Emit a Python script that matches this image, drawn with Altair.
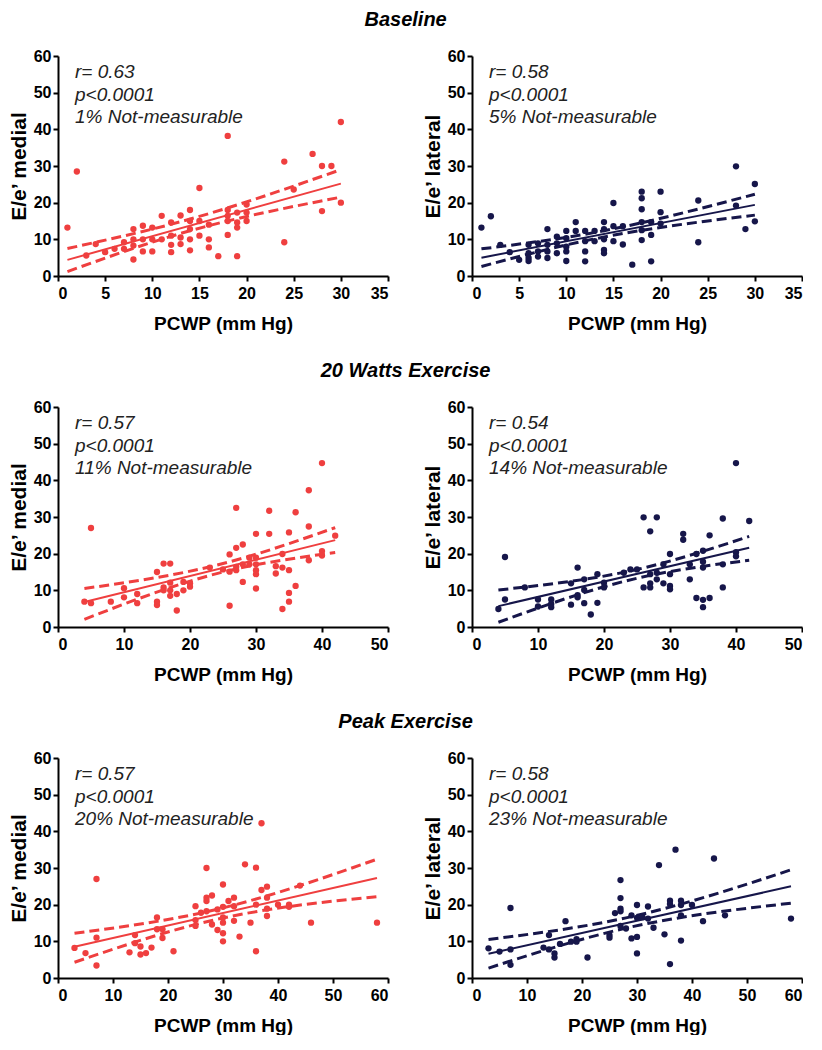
import altair as alt
import pandas as pd

RED = "#EF3F3F"
NAVY = "#16164A"
FONT = "Liberation Sans"

# ---------------- Baseline ----------------
base_med_x = [1, 2, 3, 4, 5, 6, 7, 7, 8, 8, 8, 8, 9, 9, 9, 10, 10, 10, 11, 11, 12, 12, 12, 12,
              13, 13, 13, 14, 14, 14, 14, 14, 15, 15, 15, 16, 16, 16, 17, 18, 18, 18, 18, 18,
              19, 19, 19, 19, 20, 20, 20, 24, 24, 25, 27, 28, 28, 29, 30, 30]
base_med_y = [13.2, 28.5, 5.6, 8.7, 6.5, 7.4, 9.2, 7.4, 12.8, 10, 8.3, 4.5, 13.7, 10, 6.7,
              13.2, 10, 6.7, 16.4, 10, 14.6, 11, 8.5, 6.5, 16.5, 10.5, 8.7, 18, 15, 12.8, 10, 7,
              24, 15, 11, 14, 10, 7.8, 5.4, 38.2, 18, 16.4, 15, 11.2, 17.3, 14.6, 13.2, 5.4,
              19.5, 17.3, 15, 31.2, 9.2, 23.6, 33.3, 30, 17.7, 30, 42, 20]
base_med_fit_x = [1, 13, 30]
base_med_line = [4.4, 25.2]
base_med_upper = [7.5, 14.8, 29.0]
base_med_lower = [1.2, 11.6, 21.5]
base_med_stats = ["r= 0.63", "p<0.0001", "1% Not-measurable"]

base_lat_x = [1, 2, 3, 4, 5, 6, 6, 6, 6, 7, 7, 7, 8, 8, 8, 8, 9, 9, 9, 10, 10, 10, 10, 10,
              11, 11, 12, 12, 12, 12, 13, 13, 14, 14, 14, 14, 14, 15, 15, 15, 16, 16, 17,
              18, 18, 18, 18, 18, 18, 19, 19, 19, 20, 20, 20, 24, 24, 28, 28, 29, 30, 30]
base_lat_y = [13.2, 16.3, 8.5, 6.5, 4.4, 8.5, 6.2, 4.1, 4.9, 8.9, 6.7, 5.3, 12.8, 8.5, 6.7, 4.9,
              10.7, 8.9, 6.2, 12.3, 10.3, 8, 6.7, 4.1, 14.7, 12.3, 12.3, 9.5, 6.7, 4, 12.3, 9.5,
              14.7, 12.8, 10, 7.1, 6.2, 19.9, 13.6, 9.5, 13.6, 8.6, 3.1, 23, 21.2, 18.2, 14.7,
              12.5, 9.8, 14.7, 11.2, 4, 23, 17.4, 14.3, 20.6, 9.2, 29.9, 19.2, 12.8, 25.1, 14.9]
base_lat_fit_x = [1, 12, 30]
base_lat_line = [5.0, 19.4]
base_lat_upper = [7.4, 11.4, 22.3]
base_lat_lower = [2.6, 9.6, 16.6]
base_lat_stats = ["r= 0.58", "p<0.0001", "5% Not-measurable"]

# ---------------- 20 Watts ----------------
w20_med_x = [4, 5, 5, 8, 10, 10, 12, 12, 15, 15, 15, 16, 16, 16, 17, 17, 17, 17, 18, 18, 19, 19,
             20, 20, 23, 25, 26, 26, 26, 27, 27, 27, 27, 28, 28, 28, 29, 29, 30, 30, 30, 30, 30,
             30, 32, 32, 33, 33, 34, 34, 34, 35, 35, 35, 35, 36, 36, 38, 38, 38, 40, 40, 40, 42]
w20_med_y = [6.9, 27, 6.5, 6.9, 10.6, 8.1, 9, 6.5, 15, 6.9, 6, 17.3, 10.8, 10, 17.3, 12.1, 10,
             8.5, 9, 4.5, 12.3, 10, 11.9, 11, 16.2, 15.7, 19.8, 15.1, 5.8, 32.5, 21.6, 16.4,
             15.5, 22.5, 17.1, 12.3, 18.9, 17.1, 25.4, 18.9, 17.1, 15.5, 14.4, 10.5, 31.7, 25.4,
             16.6, 14.6, 19.9, 16.2, 4.9, 25.8, 15.5, 9.3, 6.9, 31.3, 11.2, 37.3, 27.4, 18.2,
             44.7, 20.7, 19.5, 24.9]
w20_med_fit_x = [4, 25, 42]
w20_med_line = [6.8, 23.7]
w20_med_upper = [10.5, 17.3, 27.1]
w20_med_lower = [2.1, 15.0, 20.3]
w20_med_stats = ["r= 0.57", "p<0.0001", "11% Not-measurable"]

w20_lat_x = [4, 5, 5, 8, 10, 10, 12, 12, 12, 15, 15, 16, 16, 16, 17, 17, 17, 18, 19, 19, 20, 20,
             23, 24, 25, 26, 26, 27, 27, 27, 27, 28, 28, 28, 29, 29, 30, 30, 30, 30, 32, 32,
             33, 33, 34, 34, 35, 35, 35, 35, 35, 36, 36, 38, 38, 38, 40, 40, 40, 42]
w20_lat_y = [4.9, 19.1, 7.5, 10.8, 7.5, 5.6, 7.5, 6.3, 5.4, 11.9, 6.1, 16.2, 8.7, 8.1, 13, 10.1,
             6.5, 3.4, 14.4, 6.6, 12.1, 10.8, 14.8, 15.7, 15.7, 29.9, 10.8, 26.1, 14.4, 11.9,
             10.8, 29.9, 14.8, 13, 17.1, 11.9, 19.9, 14.4, 11.2, 10.3, 25.4, 23.8, 17.1, 13,
             19.9, 7.9, 20.8, 17.8, 16.2, 7.4, 5.4, 25, 7.9, 29.6, 17.1, 10.8, 44.7, 20.4,
             19.3, 28.9]
w20_lat_fit_x = [4, 25, 42]
w20_lat_line = [5.7, 21.6]
w20_lat_upper = [10.1, 15.7, 24.7]
w20_lat_lower = [1.3, 13.3, 18.2]
w20_lat_stats = ["r= 0.54", "p<0.0001", "14% Not-measurable"]

# ---------------- Peak ----------------
peak_med_x = [3, 5, 7, 7, 7, 13, 14, 14, 15, 15, 16, 17, 18, 18, 19, 19, 21, 25, 25, 25, 26,
              27, 27, 27, 27, 28, 28, 29, 29, 30, 30, 30, 30, 30, 30, 31, 32, 32, 32, 33, 34,
              35, 36, 36, 36, 37, 37, 38, 38, 38, 38, 40, 42, 42, 44, 46, 58]
peak_med_y = [8.2, 6.8, 27, 11, 3.4, 7, 11.7, 9.5, 8.6, 6.4, 6.8, 8.3, 16.5, 13.3, 13.3, 10.9,
              7.3, 19.6, 15.8, 14.2, 17.8, 30, 21.9, 21, 18.2, 22.5, 14.6, 18.7, 13.1, 25.5,
              19.4, 16.5, 15.1, 12.2, 10, 21, 21.9, 19.6, 15.6, 11.3, 31, 15.1, 30.1, 20, 7.3,
              42.2, 24, 24.9, 21.9, 18.9, 16.9, 20, 20, 19.4, 25.2, 15.1, 15.1]
peak_med_fit_x = [3, 28, 58]
peak_med_line = [8.5, 27.3]
peak_med_upper = [12.2, 18.4, 32.4]
peak_med_lower = [4.3, 15.7, 22.2]
peak_med_stats = ["r= 0.57", "p<0.0001", "20% Not-measurable"]

peak_lat_x = [3, 5, 7, 7, 7, 13, 14, 14, 15, 15, 16, 17, 18, 19, 19, 21, 25, 25, 26, 27, 27,
              27, 27, 27, 28, 29, 29, 30, 30, 30, 30, 31, 32, 32, 33, 34, 35, 36, 36, 36, 37,
              38, 38, 38, 38, 40, 42, 44, 46, 58]
peak_lat_y = [8.1, 7.2, 19.1, 7.8, 3.6, 8.3, 11.7, 7.8, 6.7, 5.6, 9.3, 15.5, 9.9, 10.6, 9.9,
              5.6, 11.7, 11, 17.7, 26.7, 21.8, 18.9, 18.2, 14.2, 13.5, 17.1, 10.8, 19.9, 16.4,
              11.2, 6.7, 16.6, 19.5, 16.2, 13.7, 30.8, 11.9, 21.1, 20.2, 3.8, 35, 21.1, 19.9,
              17.1, 10.2, 19.9, 15.5, 32.6, 17.1, 16.2]
peak_lat_fit_x = [3, 28, 58]
peak_lat_line = [6.6, 25.0]
peak_lat_upper = [10.5, 16.4, 29.5]
peak_lat_lower = [2.7, 13.6, 20.4]
peak_lat_stats = ["r= 0.58", "p<0.0001", "23% Not-measurable"]

row_titles = ["Baseline", "20 Watts Exercise", "Peak Exercise"]
y_titles = ["E/e\u2019 medial", "E/e\u2019 lateral"]
x_title = "PCWP (mm Hg)"

W, H = 330, 220


def make_panel(px, py, fx, fline, fup, flo, color, ytitle, xmax, xstep, stats):
    xs = alt.Scale(domain=[0, xmax], nice=False)
    ys = alt.Scale(domain=[0, 60], nice=False)
    xax = alt.Axis(title=x_title, values=list(range(0, xmax + 1, xstep)))
    yax = alt.Axis(title=ytitle, values=list(range(0, 61, 10)))
    X = alt.X("x:Q", scale=xs, axis=xax)
    Y = alt.Y("y:Q", scale=ys, axis=yax)

    pts_df = pd.DataFrame({"x": px, "y": py})
    band_df = pd.DataFrame({
        "x": list(fx) + list(fx),
        "y": list(fup) + list(flo),
        "band": ["upper"] * len(fx) + ["lower"] * len(fx),
    })
    line_df = pd.DataFrame({"x": [fx[0], fx[-1]], "y": fline})
    txt_df = pd.DataFrame({"label": ["\n".join(stats)]})

    bands = alt.Chart(band_df).mark_line(
        color=color, strokeWidth=3, strokeDash=[10, 5], interpolate="monotone"
    ).encode(x=X, y=Y, detail="band:N")
    line = alt.Chart(line_df).mark_line(color=color, strokeWidth=2).encode(x=X, y=Y)
    pts = alt.Chart(pts_df).mark_circle(size=40, color=color, opacity=1).encode(x=X, y=Y)
    txt = alt.Chart(txt_df).mark_text(
        align="left", baseline="middle", lineBreak="\n", lineHeight=22.5,
        font=FONT, fontStyle="italic", fontSize=19, color="#222222"
    ).encode(x=alt.value(17), y=alt.value(16), text="label:N")
    return alt.layer(bands, line, pts, txt).properties(width=W, height=H)


def row(title, left, right):
    return alt.hconcat(left, right, spacing=84, bounds="flush").properties(
        title=alt.TitleParams(
            text=title, font=FONT, fontSize=20, fontWeight="bold", fontStyle="italic",
            anchor="middle", offset=18, color="black"
        )
    )


r1 = row(row_titles[0],
         make_panel(base_med_x, base_med_y, base_med_fit_x, base_med_line, base_med_upper,
                    base_med_lower, RED, y_titles[0], 35, 5, base_med_stats),
         make_panel(base_lat_x, base_lat_y, base_lat_fit_x, base_lat_line, base_lat_upper,
                    base_lat_lower, NAVY, y_titles[1], 35, 5, base_lat_stats))
r2 = row(row_titles[1],
         make_panel(w20_med_x, w20_med_y, w20_med_fit_x, w20_med_line, w20_med_upper,
                    w20_med_lower, RED, y_titles[0], 50, 10, w20_med_stats),
         make_panel(w20_lat_x, w20_lat_y, w20_lat_fit_x, w20_lat_line, w20_lat_upper,
                    w20_lat_lower, NAVY, y_titles[1], 50, 10, w20_lat_stats))
r3 = row(row_titles[2],
         make_panel(peak_med_x, peak_med_y, peak_med_fit_x, peak_med_line, peak_med_upper,
                    peak_med_lower, RED, y_titles[0], 60, 10, peak_med_stats),
         make_panel(peak_lat_x, peak_lat_y, peak_lat_fit_x, peak_lat_line, peak_lat_upper,
                    peak_lat_lower, NAVY, y_titles[1], 60, 10, peak_lat_stats))

chart = alt.vconcat(r1, r2, r3, spacing=28).properties(
    padding={"top": 2, "left": 0, "right": 0, "bottom": 0}, background="white"
).configure_view(stroke=None).configure_axis(
    grid=False,
    domainColor="black", domainWidth=2,
    tickColor="black", tickWidth=2, tickSize=5,
    labelFont=FONT, labelFontSize=16, labelFontWeight="bold", labelColor="black",
    titleFont=FONT, titleFontSize=19, titleFontWeight="bold", titleColor="black",
).configure_axisX(
    labelPadding=4, titlePadding=13
).configure_axisY(
    labelPadding=2, titlePadding=4, titleFontSize=21
)

chart.save("out.html", embed_options={"renderer": "svg", "actions": False})
